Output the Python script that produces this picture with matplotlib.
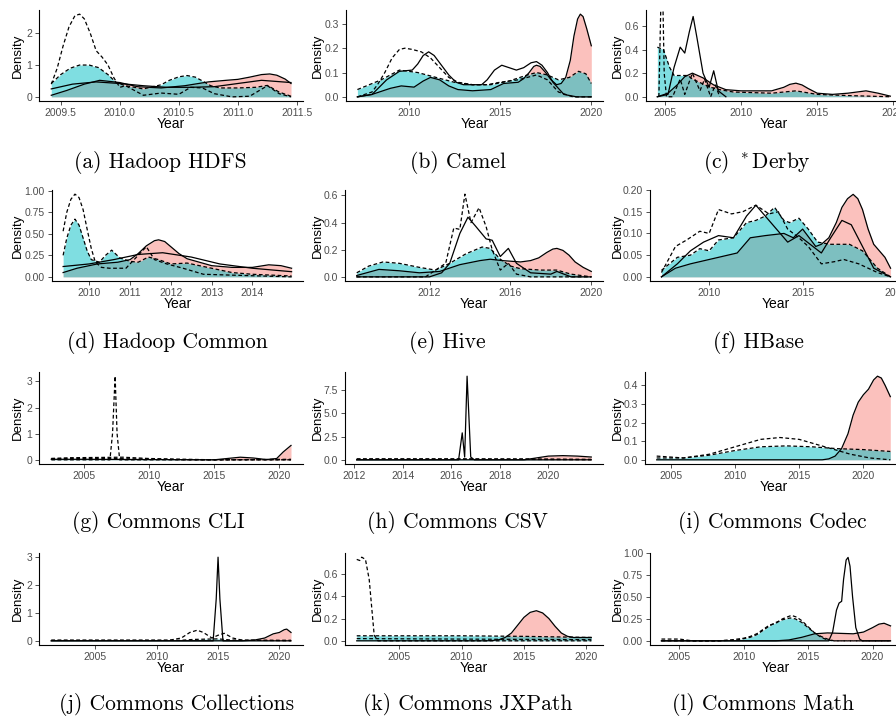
import numpy as np
import matplotlib.pyplot as plt

# ---- data: (year, density) knots per curve ----
# fill = red (solid outline), cyan (dashed outline); lines = unfilled curves

hdfs_red = [(2009.42, 0.05), (2009.55, 0.2), (2009.7, 0.4), (2009.83, 0.52), (2010.0, 0.45), (2010.15, 0.32),
            (2010.35, 0.28), (2010.55, 0.35), (2010.75, 0.47), (2010.9, 0.52), (2011.0, 0.55), (2011.1, 0.62),
            (2011.2, 0.7), (2011.27, 0.72), (2011.33, 0.68), (2011.4, 0.56), (2011.45, 0.42)]
hdfs_cyan = [(2009.42, 0.42), (2009.5, 0.7), (2009.58, 0.9), (2009.66, 1.0), (2009.74, 1.0), (2009.82, 0.92),
             (2009.9, 0.7), (2009.97, 0.45), (2010.05, 0.35), (2010.2, 0.25), (2010.35, 0.38), (2010.42, 0.52),
             (2010.5, 0.63), (2010.57, 0.67), (2010.64, 0.62), (2010.7, 0.5), (2010.77, 0.35), (2010.85, 0.28),
             (2011.0, 0.28), (2011.15, 0.3), (2011.25, 0.36), (2011.35, 0.15), (2011.45, 0.02)]
hdfs_dash = [(2009.42, 0.4), (2009.47, 0.9), (2009.52, 1.6), (2009.57, 2.2), (2009.62, 2.55), (2009.66, 2.6),
             (2009.7, 2.45), (2009.75, 2.0), (2009.8, 1.45), (2009.85, 1.25), (2009.9, 1.0), (2009.95, 0.6),
             (2010.0, 0.3), (2010.05, 0.35), (2010.1, 0.25), (2010.2, 0.05), (2010.35, 0.12), (2010.5, 0.08),
             (2010.6, 0.3), (2010.7, 0.28), (2010.8, 0.1), (2010.95, 0.0), (2011.1, 0.02), (2011.25, 0.35),
             (2011.35, 0.1), (2011.45, 0.0)]
hdfs_solid = [(2009.42, 0.25), (2009.6, 0.4), (2009.8, 0.47), (2010.0, 0.42), (2010.2, 0.35), (2010.4, 0.3),
              (2010.6, 0.3), (2010.8, 0.32), (2011.0, 0.42), (2011.2, 0.52), (2011.45, 0.45)]

camel_red = [(2007.2, 0.0), (2008.0, 0.01), (2009.0, 0.035), (2009.6, 0.045), (2010.3, 0.04), (2010.8, 0.065),
             (2011.2, 0.08), (2011.7, 0.07), (2012.2, 0.045), (2012.7, 0.03), (2013.5, 0.025), (2014.5, 0.03),
             (2015.2, 0.055), (2016.0, 0.06), (2016.3, 0.075), (2016.6, 0.1), (2016.85, 0.125), (2017.0, 0.13),
             (2017.2, 0.125), (2017.5, 0.1), (2017.8, 0.07), (2018.1, 0.05), (2018.35, 0.055), (2018.6, 0.08),
             (2018.85, 0.15), (2019.05, 0.25), (2019.25, 0.32), (2019.4, 0.34), (2019.55, 0.33), (2019.75, 0.28),
             (2020.0, 0.21)]
camel_cyan = [(2007.2, 0.03), (2008.5, 0.07), (2009.5, 0.11), (2010.5, 0.1), (2011.5, 0.08), (2012.5, 0.06),
              (2013.5, 0.05), (2014.5, 0.05), (2015.5, 0.065), (2016.5, 0.09), (2017.0, 0.1), (2017.6, 0.09),
              (2018.2, 0.07), (2018.8, 0.08), (2019.3, 0.105), (2019.7, 0.095), (2020.0, 0.055)]
camel_dash = [(2007.2, 0.0), (2008.0, 0.02), (2008.3, 0.05), (2008.7, 0.1), (2009.1, 0.16), (2009.5, 0.195),
              (2009.8, 0.2), (2010.2, 0.195), (2010.7, 0.185), (2011.2, 0.16), (2011.7, 0.12), (2012.2, 0.08),
              (2012.7, 0.06), (2013.5, 0.05), (2014.3, 0.05), (2015.0, 0.06), (2016.0, 0.07), (2017.0, 0.09),
              (2017.6, 0.07), (2018.2, 0.02), (2019.0, 0.0), (2020.0, 0.0)]
camel_solid = [(2007.2, 0.0), (2008.0, 0.01), (2008.8, 0.07), (2009.5, 0.105), (2010.2, 0.11), (2010.5, 0.135),
               (2010.8, 0.17), (2011.1, 0.185), (2011.4, 0.17), (2011.8, 0.13), (2012.2, 0.09), (2012.6, 0.06),
               (2013.0, 0.05), (2014.0, 0.05), (2014.3, 0.07), (2014.7, 0.11), (2015.1, 0.13), (2015.5, 0.12),
               (2015.9, 0.11), (2016.3, 0.12), (2016.7, 0.14), (2017.0, 0.145), (2017.3, 0.13), (2017.6, 0.1),
               (2017.9, 0.06), (2018.5, 0.01), (2019.2, 0.0), (2020.0, 0.0)]

derby_red = [(2004.5, 0.0), (2005.2, 0.03), (2005.8, 0.1), (2006.3, 0.17), (2006.8, 0.2), (2007.5, 0.16),
             (2008.2, 0.1), (2009.0, 0.06), (2010.0, 0.05), (2011.0, 0.05), (2012.0, 0.05), (2012.8, 0.08),
             (2013.2, 0.105), (2013.6, 0.115), (2014.0, 0.1), (2014.4, 0.07), (2015.0, 0.03), (2016.0, 0.02),
             (2017.0, 0.03), (2018.2, 0.05), (2019.0, 0.03), (2019.8, 0.005)]
derby_cyan = [(2004.5, 0.42), (2004.9, 0.4), (2005.3, 0.25), (2005.6, 0.18), (2006.0, 0.18), (2006.5, 0.18),
              (2006.8, 0.15), (2007.3, 0.12), (2008.0, 0.08), (2008.6, 0.06), (2009.5, 0.04), (2012.0, 0.03),
              (2013.6, 0.05), (2015.0, 0.02), (2017.0, 0.01), (2019.8, 0.0)]
derby_solid = [(2004.5, 0.0), (2005.2, 0.02), (2005.6, 0.25), (2006.0, 0.42), (2006.3, 0.37), (2006.6, 0.55),
               (2006.85, 0.68), (2007.1, 0.5), (2007.5, 0.2), (2007.9, 0.08), (2008.2, 0.22), (2008.5, 0.05),
               (2009.0, 0.0)]
derby_dash = [(2004.6, 0.0), (2004.75, 0.9), (2004.85, 0.9), (2004.95, 0.2), (2005.1, 0.0), (2005.5, 0.0),
              (2006.0, 0.15), (2006.3, 0.02), (2006.8, 0.2), (2007.3, 0.05), (2007.6, 0.15), (2008.0, 0.0),
              (2008.3, 0.1), (2008.6, 0.0)]

common_red = [(2009.36, 0.05), (2009.7, 0.1), (2010.2, 0.15), (2010.7, 0.17), (2011.0, 0.2), (2011.2, 0.27),
              (2011.4, 0.36), (2011.6, 0.42), (2011.7, 0.43), (2011.85, 0.41), (2012.0, 0.35), (2012.2, 0.27),
              (2012.4, 0.21), (2012.7, 0.17), (2013.0, 0.13), (2013.5, 0.11), (2014.0, 0.11), (2014.4, 0.14),
              (2014.7, 0.13), (2014.96, 0.1)]
common_cyan = [(2009.36, 0.25), (2009.45, 0.45), (2009.55, 0.6), (2009.65, 0.67), (2009.75, 0.6), (2009.85, 0.45),
               (2009.95, 0.3), (2010.05, 0.2), (2010.25, 0.17), (2010.4, 0.25), (2010.55, 0.31), (2010.75, 0.22),
               (2011.0, 0.18), (2011.2, 0.17), (2011.45, 0.23), (2011.7, 0.2), (2012.0, 0.15), (2012.4, 0.16),
               (2013.0, 0.1), (2013.5, 0.05), (2014.0, 0.03), (2014.96, 0.01)]
common_dash = [(2009.36, 0.53), (2009.45, 0.75), (2009.55, 0.9), (2009.65, 0.96), (2009.75, 0.92), (2009.85, 0.78),
               (2009.95, 0.55), (2010.05, 0.33), (2010.15, 0.17), (2010.3, 0.11), (2010.5, 0.1), (2010.9, 0.1),
               (2011.2, 0.25), (2011.4, 0.35), (2011.6, 0.2), (2011.9, 0.15), (2012.3, 0.1), (2012.8, 0.03),
               (2013.5, 0.02), (2014.96, 0.0)]
common_solid = [(2009.36, 0.12), (2010.0, 0.15), (2010.6, 0.2), (2011.2, 0.26), (2011.8, 0.28), (2012.5, 0.23),
                (2013.2, 0.15), (2014.0, 0.1), (2014.96, 0.06)]

hive_red = [(2008.4, 0.01), (2009.5, 0.055), (2010.5, 0.045), (2011.5, 0.03), (2012.5, 0.04), (2013.5, 0.09),
            (2014.5, 0.12), (2015.0, 0.13), (2015.6, 0.12), (2016.5, 0.11), (2017.0, 0.12), (2017.4, 0.14),
            (2017.8, 0.18), (2018.1, 0.205), (2018.3, 0.21), (2018.6, 0.195), (2018.9, 0.16), (2019.2, 0.11),
            (2019.6, 0.07), (2020.0, 0.04)]
hive_cyan = [(2008.4, 0.03), (2009.0, 0.08), (2009.7, 0.11), (2010.5, 0.1), (2011.5, 0.07), (2012.3, 0.05),
             (2013.0, 0.1), (2013.8, 0.17), (2014.6, 0.22), (2015.0, 0.21), (2015.5, 0.13), (2016.0, 0.08),
             (2016.5, 0.06), (2017.5, 0.05), (2018.3, 0.05), (2019.0, 0.02), (2020.0, 0.0)]
hive_dash = [(2008.4, 0.0), (2011.8, 0.0), (2012.3, 0.05), (2012.8, 0.1), (2013.2, 0.36), (2013.5, 0.35),
             (2013.75, 0.61), (2014.05, 0.4), (2014.45, 0.51), (2014.8, 0.37), (2015.1, 0.2), (2015.5, 0.05),
             (2015.9, 0.1), (2016.3, 0.02), (2017.0, 0.0), (2020.0, 0.0)]
hive_solid = [(2008.4, 0.0), (2012.0, 0.0), (2012.6, 0.03), (2013.0, 0.1), (2013.5, 0.32), (2013.9, 0.44),
              (2014.3, 0.37), (2014.8, 0.28), (2015.1, 0.27), (2015.5, 0.15), (2015.9, 0.21), (2016.3, 0.1),
              (2017.0, 0.03), (2018.0, 0.02), (2018.3, 0.04), (2019.0, 0.0), (2020.0, 0.0)]

hbase_red = [(2007.45, 0.0), (2008.2, 0.02), (2009.0, 0.03), (2010.0, 0.04), (2011.0, 0.05), (2011.5, 0.055),
             (2012.2, 0.09), (2013.0, 0.095), (2014.0, 0.1), (2014.5, 0.09), (2015.0, 0.11), (2015.7, 0.07),
             (2016.0, 0.075), (2016.4, 0.09), (2016.8, 0.125), (2017.1, 0.16), (2017.4, 0.18), (2017.7, 0.19),
             (2017.95, 0.18), (2018.2, 0.155), (2018.5, 0.11), (2018.8, 0.075), (2019.1, 0.06), (2019.4, 0.045),
             (2019.7, 0.02)]
hbase_cyan = [(2007.45, 0.015), (2008.3, 0.045), (2009.0, 0.05), (2009.5, 0.065), (2010.0, 0.06), (2010.5, 0.085),
              (2011.3, 0.09), (2012.0, 0.125), (2012.5, 0.13), (2013.0, 0.14), (2013.5, 0.16), (2014.0, 0.13),
              (2014.3, 0.125), (2014.8, 0.135), (2015.3, 0.11), (2015.8, 0.08), (2016.5, 0.075), (2017.5, 0.075),
              (2018.2, 0.06), (2019.0, 0.02), (2019.7, 0.0)]
hbase_dash = [(2007.45, 0.01), (2008.2, 0.07), (2008.8, 0.085), (2009.5, 0.105), (2010.0, 0.1), (2010.5, 0.155),
              (2011.2, 0.145), (2011.8, 0.15), (2012.5, 0.165), (2013.2, 0.145), (2013.7, 0.15), (2014.2, 0.11),
              (2014.8, 0.09), (2015.3, 0.07), (2016.0, 0.03), (2016.7, 0.035), (2017.2, 0.04), (2018.0, 0.03),
              (2019.0, 0.01), (2019.7, 0.0)]
hbase_solid = [(2007.45, 0.0), (2008.3, 0.03), (2009.0, 0.06), (2009.7, 0.08), (2010.5, 0.095), (2011.3, 0.09),
               (2012.0, 0.14), (2012.5, 0.165), (2013.0, 0.14), (2013.7, 0.105), (2014.2, 0.08), (2014.8, 0.095),
               (2015.4, 0.075), (2016.0, 0.055), (2016.5, 0.09), (2017.1, 0.13), (2017.6, 0.12), (2018.2, 0.07),
               (2018.8, 0.02), (2019.7, 0.0)]

cli_red = [(2002.5, 0.02), (2005.0, 0.02), (2010.0, 0.01), (2015.0, 0.0), (2016.0, 0.05), (2017.0, 0.1),
           (2018.0, 0.07), (2019.0, 0.01), (2019.8, 0.05), (2020.3, 0.3), (2020.9, 0.55)]
cli_cyan = [(2002.5, 0.05), (2007.0, 0.05), (2010.0, 0.03), (2013.0, 0.0), (2020.9, 0.0)]
cli_dash = [(2002.5, 0.0), (2007.0, 0.0), (2007.2, 1.0), (2007.4, 3.2), (2007.55, 1.0), (2007.75, 0.0),
            (2020.9, 0.0)]
cli_dash2 = [(2002.5, 0.05), (2004.0, 0.08), (2008.0, 0.1), (2010.0, 0.05), (2013.0, 0.02), (2015.0, 0.0),
             (2020.9, 0.02)]

csv_red = [(2012.1, 0.0), (2019.0, 0.0), (2019.5, 0.2), (2020.0, 0.4), (2020.6, 0.45), (2021.2, 0.4),
           (2021.77, 0.3)]
csv_cyan = [(2012.1, 0.08), (2016.0, 0.08), (2019.0, 0.05), (2021.77, 0.0)]
csv_solid = [(2012.1, 0.0), (2016.3, 0.0), (2016.45, 2.9), (2016.55, 0.3), (2016.65, 9.0), (2016.8, 0.3),
             (2016.95, 0.0), (2021.77, 0.0)]
csv_dash = [(2012.1, 0.1), (2016.0, 0.1), (2019.0, 0.1), (2021.77, 0.05)]

codec_red = [(2003.9, 0.0), (2016.8, 0.0), (2017.3, 0.005), (2017.8, 0.02), (2018.3, 0.06), (2018.8, 0.14),
             (2019.2, 0.24), (2019.6, 0.31), (2020.0, 0.35), (2020.4, 0.38), (2020.8, 0.43), (2021.1, 0.45),
             (2021.4, 0.44), (2021.7, 0.4), (2022.1, 0.34)]
codec_cyan = [(2003.9, 0.01), (2006.0, 0.01), (2008.0, 0.025), (2010.0, 0.05), (2012.0, 0.07), (2014.0, 0.075),
              (2016.0, 0.07), (2018.0, 0.06), (2020.0, 0.055), (2022.1, 0.045)]
codec_dash = [(2003.9, 0.02), (2006.0, 0.01), (2008.0, 0.03), (2010.0, 0.07), (2012.0, 0.11), (2013.5, 0.12),
              (2015.0, 0.11), (2017.0, 0.07), (2019.0, 0.03), (2020.5, 0.01), (2022.1, 0.0)]

coll_red = [(2001.4, 0.0), (2017.0, 0.0), (2018.0, 0.03), (2018.8, 0.1), (2019.5, 0.25), (2020.0, 0.3),
            (2020.4, 0.4), (2020.6, 0.42), (2020.95, 0.3)]
coll_cyan = [(2001.4, 0.02), (2012.0, 0.02), (2013.0, 0.05), (2015.0, 0.07), (2016.0, 0.03), (2020.95, 0.0)]
coll_solid = [(2001.4, 0.0), (2014.6, 0.0), (2014.85, 1.5), (2015.0, 3.0), (2015.15, 1.5), (2015.4, 0.0),
              (2020.95, 0.0)]
coll_dash = [(2001.4, 0.02), (2011.0, 0.02), (2012.0, 0.1), (2012.7, 0.3), (2013.3, 0.38), (2013.8, 0.3),
             (2014.5, 0.1), (2015.0, 0.2), (2015.5, 0.27), (2016.2, 0.1), (2017.0, 0.02), (2020.95, 0.02)]

jx_red = [(2001.6, 0.0), (2012.0, 0.0), (2012.5, 0.003), (2013.0, 0.01), (2013.5, 0.03), (2014.0, 0.07),
          (2014.5, 0.14), (2015.0, 0.21), (2015.5, 0.255), (2016.0, 0.27), (2016.5, 0.25), (2017.0, 0.2),
          (2017.5, 0.13), (2018.0, 0.07), (2018.5, 0.04), (2019.0, 0.03), (2020.4, 0.03)]
jx_cyan = [(2001.6, 0.045), (2010.0, 0.045), (2015.0, 0.04), (2020.4, 0.03)]
jx_dash = [(2001.6, 0.73), (2001.85, 0.72), (2002.0, 0.75), (2002.3, 0.73), (2002.6, 0.55), (2002.8, 0.3),
           (2003.0, 0.05), (2003.3, 0.0), (2020.4, 0.0)]
jx_dash2 = [(2001.6, 0.02), (2020.4, 0.01)]

math_red = [(2003.6, 0.0), (2012.5, 0.0), (2013.5, 0.01), (2014.5, 0.04), (2015.5, 0.08), (2016.5, 0.09),
            (2017.5, 0.085), (2018.5, 0.08), (2019.3, 0.1), (2020.0, 0.15), (2020.5, 0.19), (2020.9, 0.2),
            (2021.4, 0.17)]
math_cyan = [(2003.6, 0.0), (2008.0, 0.0), (2009.5, 0.01), (2010.5, 0.04), (2011.0, 0.07), (2011.5, 0.12),
             (2012.0, 0.17), (2012.5, 0.21), (2013.0, 0.24), (2013.6, 0.26), (2014.0, 0.25), (2014.5, 0.21),
             (2015.0, 0.15), (2015.5, 0.09), (2016.0, 0.05), (2016.5, 0.02), (2017.0, 0.0), (2021.4, 0.0)]
math_dash = [(2003.6, 0.02), (2005.0, 0.02), (2006.0, 0.0), (2008.0, 0.0), (2009.0, 0.01), (2010.0, 0.03),
             (2010.5, 0.05), (2011.0, 0.08), (2011.5, 0.13), (2012.0, 0.18), (2012.5, 0.2), (2013.0, 0.25),
             (2013.7, 0.29), (2014.1, 0.27), (2014.5, 0.23), (2015.0, 0.16), (2015.5, 0.09), (2016.0, 0.04),
             (2016.5, 0.01), (2017.0, 0.0), (2021.4, 0.0)]
math_solid = [(2003.6, 0.0), (2016.6, 0.0), (2016.9, 0.1), (2017.2, 0.35), (2017.4, 0.43), (2017.6, 0.45),
              (2017.75, 0.7), (2017.95, 0.92), (2018.1, 0.95), (2018.25, 0.85), (2018.45, 0.5), (2018.7, 0.15),
              (2019.0, 0.02), (2019.2, 0.0), (2021.4, 0.0)]

captions = ["(a) Hadoop HDFS", "(b) Camel", "(c) $^*$Derby", "(d) Hadoop Common", "(e) Hive", "(f) HBase",
            "(g) Commons CLI", "(h) Commons CSV", "(i) Commons Codec", "(j) Commons Collections",
            "(k) Commons JXPath", "(l) Commons Math"]

panels = [
    dict(red=hdfs_red, cyan=hdfs_cyan, solid=[hdfs_solid], dash=[hdfs_dash],
         xt=[2009.5, 2010.0, 2010.5, 2011.0, 2011.5], xf="%.1f", yt=[0, 1, 2], yf="%g"),
    dict(red=camel_red, cyan=camel_cyan, solid=[camel_solid], dash=[camel_dash],
         xt=[2010, 2015, 2020], xf="%d", yt=[0, 0.1, 0.2, 0.3], yf="%.1f"),
    dict(red=derby_red, cyan=derby_cyan, solid=[derby_solid], dash=[derby_dash],
         xt=[2005, 2010, 2015, 2020], xf="%d", yt=[0, 0.2, 0.4, 0.6], yf="%.1f", ylim=(-0.036, 0.735)),
    dict(red=common_red, cyan=common_cyan, solid=[common_solid], dash=[common_dash],
         xt=[2010, 2011, 2012, 2013, 2014], xf="%d", yt=[0, 0.25, 0.5, 0.75, 1.0], yf="%.2f"),
    dict(red=hive_red, cyan=hive_cyan, solid=[hive_solid], dash=[hive_dash],
         xt=[2012, 2016, 2020], xf="%d", yt=[0, 0.2, 0.4, 0.6], yf="%.1f"),
    dict(red=hbase_red, cyan=hbase_cyan, solid=[hbase_solid], dash=[hbase_dash],
         xt=[2010, 2015, 2020], xf="%d", yt=[0, 0.05, 0.1, 0.15, 0.2], yf="%.2f"),
    dict(red=cli_red, cyan=cli_cyan, solid=[], dash=[cli_dash, cli_dash2],
         xt=[2005, 2010, 2015, 2020], xf="%d", yt=[0, 1, 2, 3], yf="%g"),
    dict(red=csv_red, cyan=csv_cyan, solid=[csv_solid], dash=[csv_dash],
         xt=[2012, 2014, 2016, 2018, 2020], xf="%d", yt=[0, 2.5, 5, 7.5], yf="%.1f"),
    dict(red=codec_red, cyan=codec_cyan, solid=[], dash=[codec_dash],
         xt=[2005, 2010, 2015, 2020], xf="%d", yt=[0, 0.1, 0.2, 0.3, 0.4], yf="%.1f"),
    dict(red=coll_red, cyan=coll_cyan, solid=[coll_solid], dash=[coll_dash],
         xt=[2005, 2010, 2015, 2020], xf="%d", yt=[0, 1, 2, 3], yf="%g"),
    dict(red=jx_red, cyan=jx_cyan, solid=[], dash=[jx_dash, jx_dash2],
         xt=[2005, 2010, 2015, 2020], xf="%d", yt=[0, 0.2, 0.4, 0.6], yf="%.1f"),
    dict(red=math_red, cyan=math_cyan, solid=[math_solid], dash=[math_dash],
         xt=[2005, 2010, 2015, 2020], xf="%d", yt=[0, 0.25, 0.5, 0.75, 1.0], yf="%.2f"),
]

# ---- layout in pixels ----
W, H = 896, 721
col_off = [0, 300, 600]
col_right = [303, 603, 902]
row_top = [10, 190, 372, 553]
row_bot = [101, 281, 464, 645]
axis_left = [39.3, 345.7, 645.7, 51.7, 345, 650, 39.3, 345, 645, 39.3, 345, 650]
cap_x = [160, 458, 757, 167, 447, 758, 158, 457, 772, 177, 468, 763]
cap_y = [163, 343, 523, 705]

plt.rcParams['font.family'] = ['Liberation Sans', 'DejaVu Sans']
plt.rcParams['mathtext.fontset'] = 'cm'

fig = plt.figure(figsize=(W / 100, H / 100), dpi=100)

RED = '#F8766D'
CYAN = '#00BFC4'
DASH = (0, (3, 2))

for i, p in enumerate(panels):
    r, c = divmod(i, 3)
    left, right = axis_left[i], col_right[c]
    top, bot = row_top[r], row_bot[r]
    ax = fig.add_axes([left / W, 1 - bot / H, (right - left) / W, (bot - top) / H])

    rx, ry = np.array(p['red']).T
    cx, cy = np.array(p['cyan']).T
    ax.fill_between(rx, 0, ry, color=RED, alpha=0.45, lw=0)
    ax.fill_between(cx, 0, cy, color=CYAN, alpha=0.5, lw=0)
    ax.plot(rx, ry, color='black', lw=0.9, solid_joinstyle='round')
    ax.plot(cx, cy, color='black', lw=0.9, linestyle=DASH)
    for s in p['solid']:
        sx, sy = np.array(s).T
        ax.plot(sx, sy, color='black', lw=0.9, solid_joinstyle='round')
    for d in p['dash']:
        dx, dy = np.array(d).T
        ax.plot(dx, dy, color='black', lw=0.9, linestyle=DASH)

    curves = [p['red'], p['cyan']] + p['solid'] + p['dash']
    allx = np.concatenate([np.array(q)[:, 0] for q in curves])
    ally = np.concatenate([np.array(q)[:, 1] for q in curves])
    x0, x1 = allx.min(), allx.max()
    y0, y1 = 0, ally.max()
    ax.set_xlim(x0 - 0.05 * (x1 - x0), x1 + 0.05 * (x1 - x0))
    if 'ylim' in p:
        ax.set_ylim(*p['ylim'])
    else:
        ax.set_ylim(y0 - 0.05 * (y1 - y0), y1 + 0.05 * (y1 - y0))

    ax.set_xticks(p['xt'])
    ax.set_xticklabels([p['xf'] % v for v in p['xt']])
    ax.set_yticks(p['yt'])
    ax.set_yticklabels([p['yf'] % v for v in p['yt']])
    for sp in ['top', 'right']:
        ax.spines[sp].set_visible(False)
    for sp in ['left', 'bottom']:
        ax.spines[sp].set_linewidth(0.8)
        ax.spines[sp].set_color('black')
    ax.tick_params(length=3, width=0.6, color='#333333', labelsize=7.5, labelcolor='#4D4D4D', pad=2)
    ax.patch.set_visible(False)

    # axis titles and caption
    fig.text((left + right) / 2 / W, 1 - (bot + 23) / H, 'Year', ha='center', va='center', fontsize=10)
    fig.text((col_off[c] + 18) / W, 1 - (top + bot) / 2 / H, 'Density', ha='center', va='center',
             rotation=90, fontsize=9.5)
    fig.text(cap_x[i] / W, 1 - cap_y[r] / H, captions[i], ha='center', va='center',
             fontsize=15.5, family='cmr10')

fig.savefig('out.png', dpi=100)
